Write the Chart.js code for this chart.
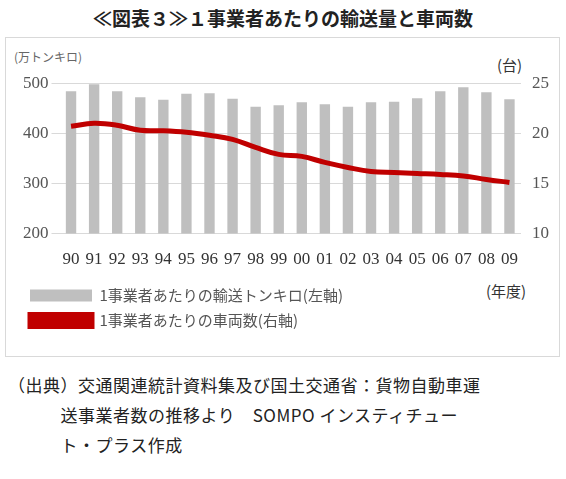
<!DOCTYPE html><html><head><meta charset="utf-8">
<script src="https://cdn.jsdelivr.net/npm/chart.js@4"></script>
<style>
body{margin:0;background:#fff;font-family:"Noto Sans CJK JP";color:#222;}
#title{position:absolute;top:4px;left:0;width:566px;text-align:center;font-size:19px;font-weight:bold;}
#box{position:absolute;left:5px;top:37px;width:553px;height:318px;border:1px solid #d9d9d9;}
.u{position:absolute;font-family:"Noto Sans CJK JP";color:#666;}
#foot{position:absolute;left:8px;top:370px;font-size:17px;line-height:30px;letter-spacing:0.5px;}
</style></head><body>
<div id="title">≪図表３≫１事業者あたりの輸送量と車両数</div>
<div id="box"></div>
<div class="u" style="left:14px;top:48px;font-size:12px;">(万トンキロ)</div>
<div class="u" style="left:497px;top:54px;font-size:15px;color:#333">(台)</div>
<div class="u" style="left:486px;top:280px;font-size:15px;color:#333">(年度)</div>
<div style="position:absolute;left:6px;top:70px;width:552px;height:268px;"><canvas id="c"></canvas></div>
<div id="foot">（出典）交通関連統計資料集及び国土交通省：貨物自動車運<br>　　　送事業者数の推移より　SOMPO インスティチュー<br>　　　ト・プラス作成</div>
<script>
const years=["90","91","92","93","94","95","96","97","98","99","00","01","02","03","04","05","06","07","08","09"];
const tonKm=[484,498,484,472,467,479,480,469,453,456,462,458,453,462,463,470,484,492,482,468];
const vehicles=[20.7,21.0,20.8,20.3,20.25,20.1,19.8,19.4,18.6,17.9,17.7,17.1,16.6,16.2,16.1,16.0,15.9,15.75,15.4,15.1];
const f={family:"Liberation Serif",size:17};
new Chart(document.getElementById('c'),{
 data:{labels:years,datasets:[
  {type:'line',label:'1事業者あたりの車両数(右軸)',data:vehicles,yAxisID:'y1',borderColor:'#c00000',backgroundColor:'#c00000',borderWidth:5,pointRadius:0,tension:0.4,order:0},
  {type:'bar',label:'1事業者あたりの輸送トンキロ(左軸)',data:tonKm,yAxisID:'y',backgroundColor:'#bfbfbf',categoryPercentage:1,barPercentage:0.45,order:1}
 ]},
 options:{responsive:true,maintainAspectRatio:false,animation:false,
  layout:{padding:{top:12,right:6,left:14}},
  plugins:{legend:{position:'bottom',align:'start',reverse:true,labels:{boxWidth:62,boxHeight:12,color:'#555',font:{family:"Noto Sans CJK JP",size:15},padding:10,
   generateLabels:(ch)=>Chart.defaults.plugins.legend.labels.generateLabels(ch).map(l=>{if(l.datasetIndex===0){l.lineWidth=5;l.strokeStyle='#c00000';} return l;})}},tooltip:{enabled:false}},
  scales:{
   x:{grid:{display:false},border:{display:false},ticks:{maxRotation:0,autoSkip:false,padding:8,color:'#333',font:{family:"Liberation Serif",size:17}}},
   y:{position:'left',min:200,max:500,ticks:{stepSize:100,color:'#555',font:f},grid:{color:'#d9d9d9'},border:{display:false}},
   y1:{position:'right',min:10,max:25,ticks:{stepSize:5,color:'#555',font:f},grid:{display:false},border:{display:false}}
  }}
});
</script></body></html>
